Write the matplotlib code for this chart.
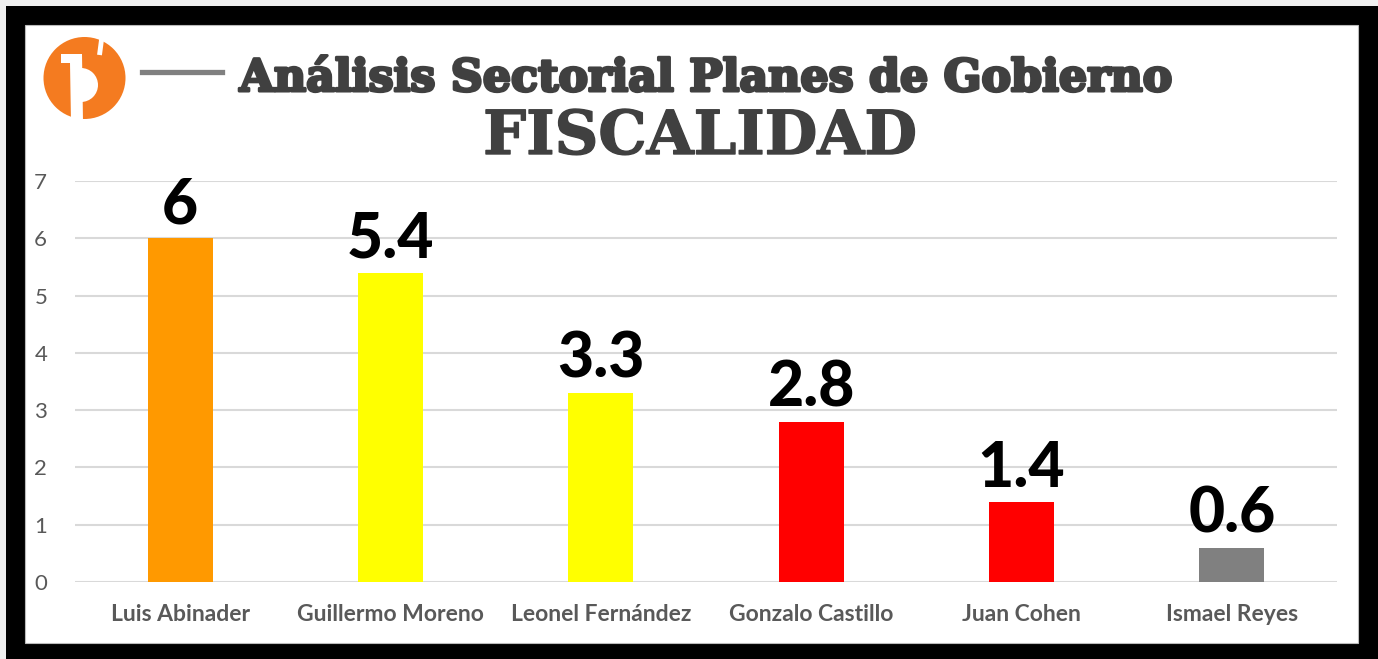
"""
Análisis Sectorial Planes de Gobierno - FISCALIDAD (bar chart with framed poster look).
"""
import matplotlib
matplotlib.use("Agg")
import matplotlib.pyplot as plt
import matplotlib.patches as mpatches
import matplotlib.patheffects as pe
import numpy as np

candidates = ["Luis Abinader", "Guillermo Moreno", "Leonel Fernández",
              "Gonzalo Castillo", "Juan Cohen", "Ismael Reyes"]
scores = [6, 5.4, 3.3, 2.8, 1.4, 0.6]
value_labels = ["6", "5.4", "3.3", "2.8", "1.4", "0.6"]
bar_colors = ["#FF9900", "#FFFF00", "#FFFF00", "#FF0000", "#FF0000", "#808080"]
y_ticks = [0, 1, 2, 3, 4, 5, 6, 7]

W, H = 1378, 659
fig = plt.figure(figsize=(W / 100, H / 100), dpi=100, facecolor="#f0f0f0")

# black poster frame + white panel
fig.patches.append(mpatches.Rectangle((6 / W, 0), 1, (H - 6) / H,
                                      transform=fig.transFigure, fc="black", ec="none", zorder=-2))
fig.patches.append(mpatches.Rectangle((25 / W, 16 / H), (1358 - 25) / W, (643 - 25) / H,
                                      transform=fig.transFigure, fc="white", ec="#bbbbbb",
                                      lw=0.8, zorder=-1))

# main chart
ax = fig.add_axes([75 / W, (H - 582) / H, (1337 - 75) / W, (582 - 181) / H], zorder=2)
ax.set_facecolor("none")
x = np.arange(len(candidates))
bars = ax.bar(x, scores, width=0.31, color=bar_colors, zorder=3)

for b, lab in zip(bars, value_labels):
    ax.annotate(lab, (b.get_x() + b.get_width() / 2, b.get_height()),
                xytext=(0, 3), textcoords="offset points", ha="center", va="bottom",
                fontsize=45, fontweight="black", family="Lato", color="black", zorder=4)

ax.set_xlim(-0.5, 5.5)
ax.set_ylim(0, 7)
ax.set_yticks(y_ticks)
ax.set_xticks(x)
ax.set_xticklabels(candidates, fontsize=16.5, fontweight="bold", family="Lato", color="#595959")
for t in ax.get_yticklabels():
    t.set_fontsize(16)
    t.set_family("Lato")
    t.set_color("#595959")
ax.tick_params(axis="y", length=0, pad=20)
ax.tick_params(axis="x", length=0, pad=16)
ax.grid(axis="y", color="#d9d9d9", linewidth=1.5, zorder=0)
ax.set_axisbelow(True)
for s in ax.spines.values():
    s.set_visible(False)

# logo: orange disc with a white "1" and a "D" cut-out
lax = fig.add_axes([38 / W, (H - 128) / H, 94 / W, 94 / H], zorder=2)
lax.set_xlim(38, 132)
lax.set_ylim(128, 34)
lax.set_aspect("equal")
lax.axis("off")
lax.add_patch(mpatches.Circle((84.5, 78), 41, fc="#F47B20", ec="none"))
lax.add_patch(mpatches.Polygon([(61, 54), (82, 54), (83, 122), (71, 122), (70, 63), (61, 63)],
                               closed=True, fc="white", ec="none"))
lax.add_patch(mpatches.Wedge((81, 85), 17, -90, 90, fc="white", ec="none"))
lax.plot([102, 99.5], [36, 55], color="white", lw=3.5, solid_capstyle="butt")

# gray rule next to logo
fig.add_artist(plt.Line2D([142 / W, 222 / W], [(H - 72) / H] * 2,
                          color="#808080", lw=3.8, transform=fig.transFigure, zorder=3))

# titles (stroke thickens the serif to a heavier slab look)
t1 = fig.text(707 / W, (H - 91) / H, "Análisis Sectorial Planes de Gobierno",
              ha="center", va="baseline", fontsize=36, fontweight="bold",
              family="DejaVu Serif", color="#404040",
              path_effects=[pe.withStroke(linewidth=2.2, foreground="#404040")], zorder=3)
t2 = fig.text(700 / W, (H - 154) / H, "FISCALIDAD",
              ha="center", va="baseline", fontsize=42, fontweight="bold",
              family="DejaVu Serif", color="#404040",
              path_effects=[pe.withStroke(linewidth=1.0, foreground="#404040")], zorder=3)

# fit title widths to the poster
r = fig.canvas.get_renderer()
for t, target in [(t1, 932), (t2, 434)]:
    w = t.get_window_extent(r).width
    t.set_fontsize(t.get_fontsize() * target / w)

fig.savefig("out.png", dpi=100, facecolor=fig.get_facecolor())
